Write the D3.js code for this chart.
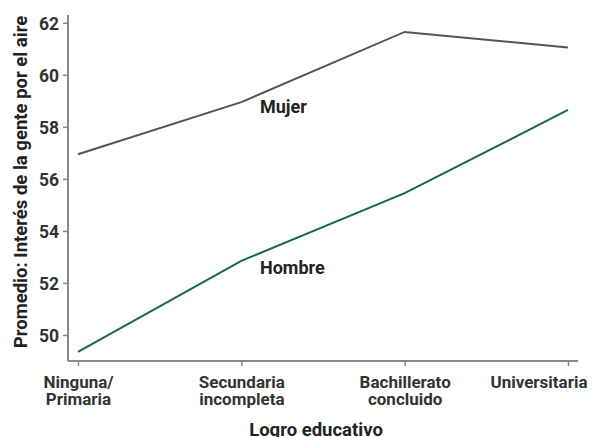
<!DOCTYPE html>
<html>
<head>
<meta charset="utf-8">
<script src="https://cdn.jsdelivr.net/npm/d3@7"></script>
<style>
  body { margin: 0; background: #fff; }
  text { font-family: Roboto, "Noto Sans", sans-serif; font-weight: bold; }
</style>
</head>
<body>
<div id="chart"></div>
<script>
const categories = [["Ninguna/", "Primaria"], ["Secundaria", "incompleta"], ["Bachillerato", "concluido"], ["Universitaria"]];
const mujer = [56.95, 58.95, 61.65, 61.05];
const hombre = [49.35, 52.85, 55.45, 58.65];
const yTicks = [50, 52, 54, 56, 58, 60, 62];

const width = 592, height = 437;
const margin = { top: 15, right: 14, bottom: 76, left: 68 };

const svg = d3.select("#chart")
    .append("svg")
    .attr("width", width)
    .attr("height", height);

const x = d3.scalePoint()
    .domain(d3.range(categories.length))
    .range([78, 568]);

const y = d3.scaleLinear()
    .domain([49, 62.3])
    .range([height - margin.bottom, margin.top]);

const axisColor = "#888";

// y axis
const yAxis = svg.append("g")
    .attr("transform", `translate(${margin.left},0)`)
    .call(d3.axisLeft(y).tickValues(yTicks).tickSize(5).tickPadding(4));
yAxis.select(".domain").attr("stroke", axisColor).attr("stroke-width", 2).attr("d", `M0,${y(62.3)}V${y(49)}`);
yAxis.selectAll(".tick line").attr("stroke", axisColor).attr("stroke-width", 1.5);
yAxis.selectAll(".tick text")
    .attr("fill", "#333")
    .attr("dy", "0.36em")
    .style("font-size", "17.5px");

// x axis
const xAxis = svg.append("g")
    .attr("transform", `translate(0,${y(49)})`)
    .call(d3.axisBottom(x).tickSize(5).tickFormat(""));
xAxis.select(".domain").attr("stroke", axisColor).attr("stroke-width", 2).attr("d", `M${margin.left},0H${width - margin.right}`);
xAxis.selectAll(".tick line").attr("stroke", axisColor).attr("stroke-width", 1.5);
xAxis.selectAll(".tick").each(function(d) {
    const last = d === categories.length - 1;
    categories[d].forEach((line, i) => {
        d3.select(this).append("text")
            .attr("fill", "#333")
            .attr("text-anchor", last ? "end" : "middle")
            .attr("x", last ? 19 : 0)
            .attr("y", 27 + i * 17)
            .style("font-size", "17px")
            .text(line);
    });
});

// lines
const line = d3.line()
    .x((d, i) => x(i))
    .y(d => y(d));

svg.append("path")
    .datum(mujer)
    .attr("fill", "none")
    .attr("stroke", "#555")
    .attr("stroke-width", 2)
    .attr("d", line);

svg.append("path")
    .datum(hombre)
    .attr("fill", "none")
    .attr("stroke", "#166b3b")
    .attr("stroke-width", 2)
    .attr("d", line);

// series labels
svg.append("text")
    .attr("x", 260).attr("y", 113)
    .attr("fill", "#222")
    .style("font-size", "18px")
    .text("Mujer");

svg.append("text")
    .attr("x", 260).attr("y", 274)
    .attr("fill", "#222")
    .style("font-size", "18px")
    .text("Hombre");

// axis titles
svg.append("text")
    .attr("x", 316).attr("y", 436)
    .attr("text-anchor", "middle")
    .attr("fill", "#222")
    .style("font-size", "18.5px")
    .text("Logro educativo");

svg.append("text")
    .attr("transform", `translate(27,182) rotate(-90)`)
    .attr("text-anchor", "middle")
    .attr("fill", "#222")
    .style("font-size", "18.5px")
    .text("Promedio: Interés de la gente por el aire");
</script>
</body>
</html>
